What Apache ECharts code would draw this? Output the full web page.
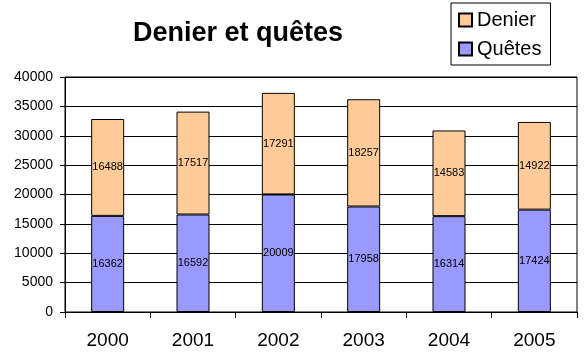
<!DOCTYPE html>
<html><head><meta charset="utf-8">
<script src="https://cdn.jsdelivr.net/npm/echarts@6/dist/echarts.min.js"></script>
<style>html,body{margin:0;padding:0;background:#fff}#c{width:587px;height:358px}</style>
</head><body><div id="c"></div>
<script>
const years = ['2000','2001','2002','2003','2004','2005'];
const quetes = [16362,16592,20009,17958,16314,17424];
const denier = [16488,17517,17291,18257,14583,14922];
const chart = echarts.init(document.getElementById('c'), null, {renderer:'canvas'});
const font = 'Arial, "Liberation Sans", sans-serif';
const lbl = {show:true, position:'inside', color:'#000', fontSize:11, fontFamily:font};
chart.setOption({
  animation:false,
  backgroundColor:'#fff',
  title:{text:'Denier et quêtes', left:233, top:15, textAlign:'center',
    textStyle:{fontFamily:font, fontSize:27, fontWeight:'bold', color:'#000'}},
  legend:{orient:'vertical', left:451, top:3,
    data:['Denier','Quêtes'], itemWidth:13, itemHeight:13, itemGap:9,
    padding:[7,9,6,7], borderColor:'#000', borderWidth:1, icon:'rect',
    textStyle:{fontFamily:font, fontSize:20, color:'#000'}},
  grid:{left:65, right:10, top:77, bottom:46, show:true, borderColor:'#000', borderWidth:1},
  xAxis:{type:'category', data:years, boundaryGap:true,
    axisLine:{lineStyle:{color:'#000'}},
    axisTick:{show:true, length:6, lineStyle:{color:'#000'}},
    axisLabel:{fontFamily:font, fontSize:19, color:'#000', margin:19}},
  yAxis:{type:'value', min:0, max:40000, interval:5000,
    axisLine:{show:true, lineStyle:{color:'#000'}},
    axisTick:{show:true, length:5, lineStyle:{color:'#000'}},
    splitLine:{lineStyle:{color:'#000', width:1}},
    axisLabel:{fontFamily:font, fontSize:14, color:'#000', margin:12, formatter:v=>String(v)}},
  series:[
    {name:'Quêtes', type:'bar', stack:'a', data:quetes, barWidth:33,
      itemStyle:{color:'#9999ff', borderColor:'#000', borderWidth:1}, label:lbl},
    {name:'Denier', type:'bar', stack:'a', data:denier, barWidth:33,
      itemStyle:{color:'#ffcc99', borderColor:'#000', borderWidth:1}, label:lbl}
  ]
});
</script></body></html>
